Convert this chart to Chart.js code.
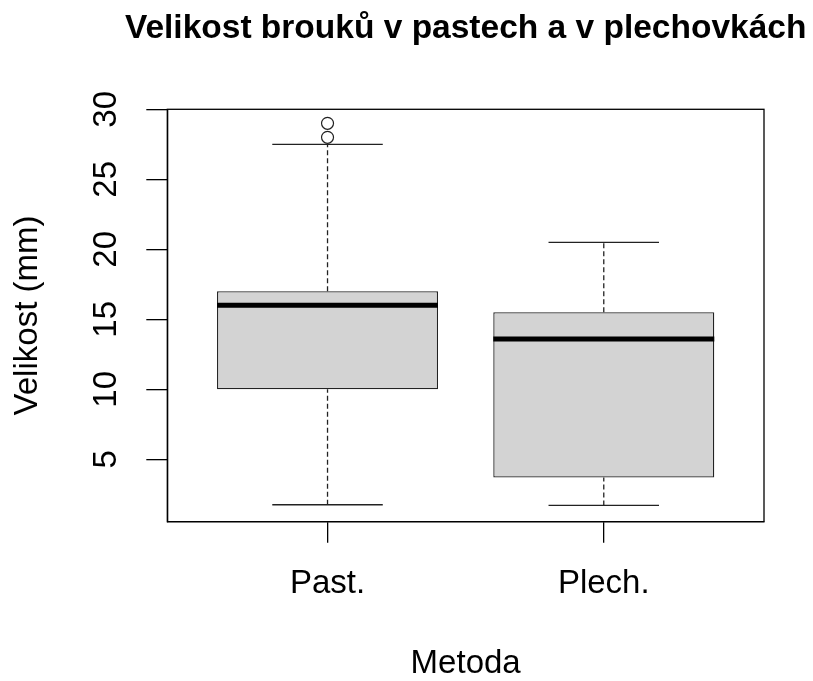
<!DOCTYPE html>
<html>
<head>
<meta charset="utf-8">
<script src="https://cdn.jsdelivr.net/npm/chart.js@4.4.1/dist/chart.umd.min.js"></script>
<style>
  html, body { margin: 0; padding: 0; background: #fff; }
</style>
</head>
<body>
<canvas id="myChart" width="813" height="681"></canvas>
<script>
// values
const methods = ['Past.', 'Plech.'];
const whiskerLow = [1.75, 1.7];
const boxLow = [10, 3.7];
const medians = [16, 13.6];
const boxHigh = [17, 15.5];
const whiskerHigh = [27.5, 20.5];
const outliers = [[28, 29], []];
const yTicks = [5, 10, 15, 20, 25, 30];

const BOX_HALF = 0.4;   // R boxwex 0.8
const CAP_HALF = 0.2;   // staplewex 0.5
const LINE_COL = '#222';

Chart.defaults.font.family = '"Liberation Sans", Arial, sans-serif';
Chart.defaults.color = '#000';

// build a line dataset made of separate segments, broken with null points
function segments(list) {
  const pts = [];
  list.forEach((s, i) => {
    if (i > 0) pts.push({x: s[0][0], y: null});
    pts.push({x: s[0][0], y: s[0][1]});
    pts.push({x: s[1][0], y: s[1][1]});
  });
  return pts;
}

const centers = methods.map((m, i) => i + 1);

const boxData = centers.map((c, i) => ({x: c, y: [boxLow[i], boxHigh[i]]}));
const medianData = segments(centers.map((c, i) => [[c - BOX_HALF, medians[i]], [c + BOX_HALF, medians[i]]]));
const whiskerData = segments(centers.flatMap((c, i) => [
  [[c, boxHigh[i]], [c, whiskerHigh[i]]],
  [[c, whiskerLow[i]], [c, boxLow[i]]]
]));
const capData = segments(centers.flatMap((c, i) => [
  [[c - CAP_HALF, whiskerHigh[i]], [c + CAP_HALF, whiskerHigh[i]]],
  [[c - CAP_HALF, whiskerLow[i]], [c + CAP_HALF, whiskerLow[i]]]
]));
const outlierData = centers.flatMap((c, i) => outliers[i].map(v => ({x: c, y: v})));

const frameAndTitle = {
  id: 'frameAndTitle',
  afterDraw(chart) {
    const {ctx, chartArea: a} = chart;
    ctx.save();
    ctx.strokeStyle = '#000';
    ctx.lineWidth = 1.3;
    ctx.strokeRect(a.left, a.top, a.right - a.left, a.bottom - a.top);
    ctx.fillStyle = '#000';
    ctx.font = 'bold 33.5px "Liberation Sans", Arial, sans-serif';
    ctx.textAlign = 'center';
    ctx.textBaseline = 'alphabetic';
    ctx.fillText('Velikost brouků v pastech a v plechovkách', (a.left + a.right) / 2, 37.5);
    ctx.restore();
  }
};

const config = {
  type: 'bar',
  data: {
    datasets: [
      {
        type: 'bar',
        data: boxData,
        backgroundColor: '#d3d3d3',
        borderColor: LINE_COL,
        borderWidth: 1.3,
        borderSkipped: false,
        barPercentage: 1,
        categoryPercentage: 0.8,
        order: 3
      },
      {
        type: 'line',
        data: whiskerData,
        borderColor: LINE_COL,
        borderWidth: 1.3,
        borderDash: [5, 3],
        pointRadius: 0,
        spanGaps: false,
        order: 2
      },
      {
        type: 'line',
        data: capData,
        borderColor: LINE_COL,
        borderWidth: 1.3,
        pointRadius: 0,
        spanGaps: false,
        order: 2
      },
      {
        type: 'line',
        data: medianData,
        borderColor: '#000',
        borderWidth: 5,
        pointRadius: 0,
        spanGaps: false,
        order: 1
      },
      {
        type: 'line',
        data: outlierData,
        showLine: false,
        pointStyle: 'circle',
        pointRadius: 6,
        pointBorderWidth: 1.2,
        pointBorderColor: LINE_COL,
        pointBackgroundColor: 'rgba(0,0,0,0)',
        order: 0
      }
    ]
  },
  options: {
    responsive: false,
    animation: false,
    events: [],
    layout: { padding: { top: 109.3, right: 49, bottom: 0, left: 0 } },
    plugins: {
      legend: { display: false },
      tooltip: { enabled: false },
      title: { display: false }
    },
    scales: {
      x: {
        type: 'linear',
        min: 0.42,
        max: 2.58,
        bounds: 'data',
        offset: false,
        afterBuildTicks(scale) { scale.ticks = centers.map(v => ({value: v})); },
        afterFit(scale) { scale.height = 159.3; },
        ticks: {
          autoSkip: false,
          maxRotation: 0,
          padding: 21.1,
          font: { size: 33 },
          color: '#000',
          callback: v => methods[v - 1] ?? ''
        },
        grid: { offset: false, drawOnChartArea: false, tickLength: 21, color: '#000', lineWidth: 1.3 },
        border: { display: true, color: '#000', width: 1.3 },
        title: { display: true, text: 'Metoda', font: { size: 33 }, color: '#000', padding: { top: 0, bottom: -2.4 } }
      },
      y: {
        type: 'linear',
        min: 0.54,
        max: 30,
        bounds: 'data',
        beginAtZero: false,
        afterBuildTicks(scale) { scale.ticks = yTicks.map(v => ({value: v})); },
        afterFit(scale) { scale.width = 167.3; },
        ticks: {
          autoSkip: false,
          minRotation: 90,
          maxRotation: 90,
          crossAlign: 'center',
          padding: 20.9,
          font: { size: 33 },
          color: '#000'
        },
        grid: { drawOnChartArea: false, tickLength: 21, color: '#000', lineWidth: 1.3 },
        border: { display: true, color: '#000', width: 1.3 },
        title: { display: true, text: 'Velikost (mm)', font: { size: 33 }, color: '#000', padding: { top: 8.4, bottom: 0 } }
      }
    }
  },
  plugins: [frameAndTitle]
};

const myChart = new Chart(document.getElementById('myChart'), config);
</script>
</body>
</html>
